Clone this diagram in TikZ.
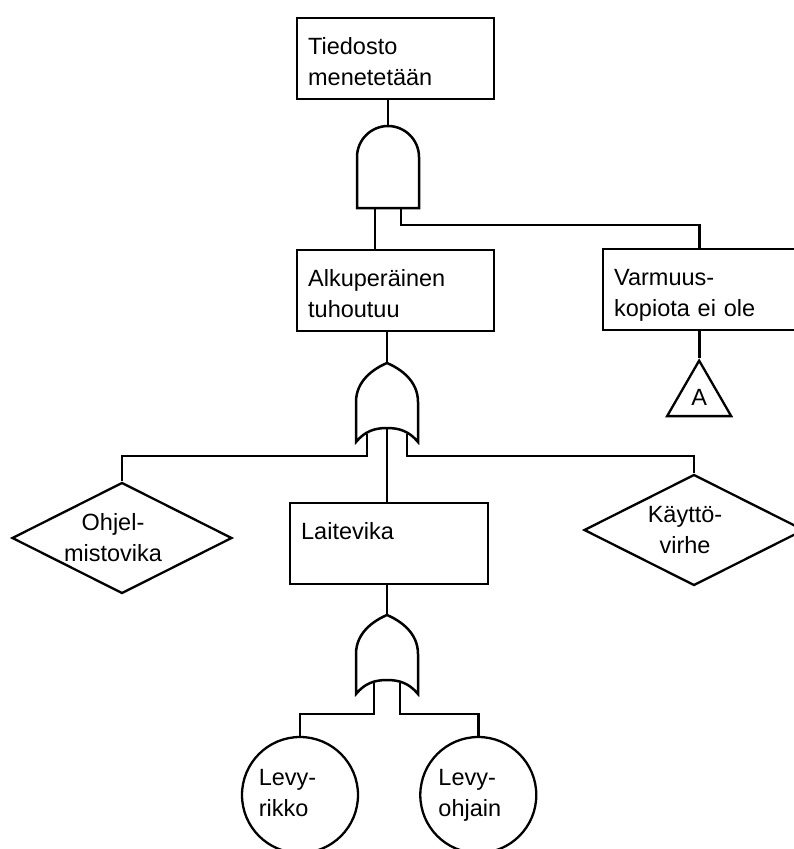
\documentclass[tikz,border=0pt]{standalone}
\usepackage{fontspec}
\setmainfont{Liberation Sans}
\usetikzlibrary{positioning,shapes.geometric}
\tikzset{
  box/.style={rectangle, draw, line width=2.3pt, anchor=north west, align=left,
    inner xsep=11pt, inner ysep=0pt, text height=36pt, text depth=45pt},
  event/.style={diamond, draw, line width=2.3pt, minimum width=220pt,
    minimum height=111pt, inner sep=0pt},
  basic/.style={circle, draw, line width=2.3pt, minimum size=116pt, inner sep=0pt},
  transfer/.style={regular polygon, regular polygon sides=3, draw, line width=2.3pt,
    minimum size=74pt, inner sep=0pt},
  wire/.style={line width=2.8pt},
  gate/.style={line width=2.5pt},
  andgate/.pic={
    \draw[gate] (-31,82) -- (-31,31) .. controls (-31,14) and (-17,0) .. (0,0)
      .. controls (17,0) and (31,14) .. (31,31) -- (31,82) -- cycle;
    \coordinate (-out) at (0,0);
    \coordinate (-l) at (-13,82);
    \coordinate (-r) at (13,82);
  },
  orgate/.pic={
    \draw[gate] (0,0) .. controls (-14,6) and (-31,18) .. (-31,39) -- (-31,79)
      .. controls (-22,68) and (-12,65) .. (0,65)
      .. controls (12,65) and (22,68) .. (31,79) -- (31,39)
      .. controls (31,18) and (14,6) .. (0,0) -- cycle;
    \coordinate (-out) at (0,0);
    \coordinate (-a) at (-20,71);
    \coordinate (-b) at (0,65);
    \coordinate (-c) at (20,71);
    \coordinate (-p) at (-13,68);
    \coordinate (-q) at (13,68);
  }
}
\def\legdrop{31}

\begin{document}
\begin{tikzpicture}[x=1pt, y=-1pt, font=\fontsize{23.5pt}{31pt}\selectfont]
  \useasboundingbox (0,0) rectangle (794,849);

  % events
  \node[box, text width=175pt] (top) at (296,17) {Tiedosto\\menetetään};
  \node[box, text width=175pt, minimum height=80pt] (alk) at (296,249) {Alkuperäinen\\tuhoutuu};
  \node[box, text width=170pt] (varm) at (602,248) {Varmuus-\\kopiota ei ole};
  \node[box, text width=176pt] (lai) at (289,502) {Laitevika};

  \node[transfer, below=27pt of varm] (tri) {A};

  \node[event, label={[align=center, xshift=-9pt]center:{Ohjel-\\mistovika}}] (ohj) at (122,538) {};
  \node[event, label={[align=center, xshift=-9pt]center:{Käyttö-\\virhe}}] (kay) at (694,530) {};

  \node[basic, label={[align=left, inner sep=0pt, xshift=-12.5pt, yshift=2pt]center:{Levy-\\rikko}}] (lev1) at (300,795) {};
  \node[basic, right=60pt of lev1, label={[align=left, inner sep=0pt, xshift=-8.5pt, yshift=-0.5pt]center:{Levy-\\ohjain}}] (lev2) {};

  % gates
  \pic (g1) at (388,126) {andgate};
  \pic (g2) at (387,363) {orgate};
  \pic (g3) at (387,615) {orgate};

  % connections
  \draw[wire] (g1-out) -- (g1-out |- top.south);
  \draw[wire] (g1-l) -- (g1-l |- alk.north);
  \draw[wire] (g1-r) -- ++(0,17) -| (varm.north);
  \draw[wire] (varm.south) -- (tri.north);

  \draw[wire] (g2-out) -- (g2-out |- alk.south);
  \draw[wire] (g2-b) -- (g2-b |- lai.north);
  \foreach \g/\n in {g2-a/ohj, g2-c/kay}
    \draw[wire] (\g) -- ++(0,22) -| (\n.north);

  \draw[wire] (g3-out) -- (g3-out |- lai.south);
  \foreach \g/\n in {g3-p/lev1, g3-q/lev2}
    \draw[wire] (\g) -- ++(0,\legdrop) -| (\n.north);
\end{tikzpicture}
\end{document}
